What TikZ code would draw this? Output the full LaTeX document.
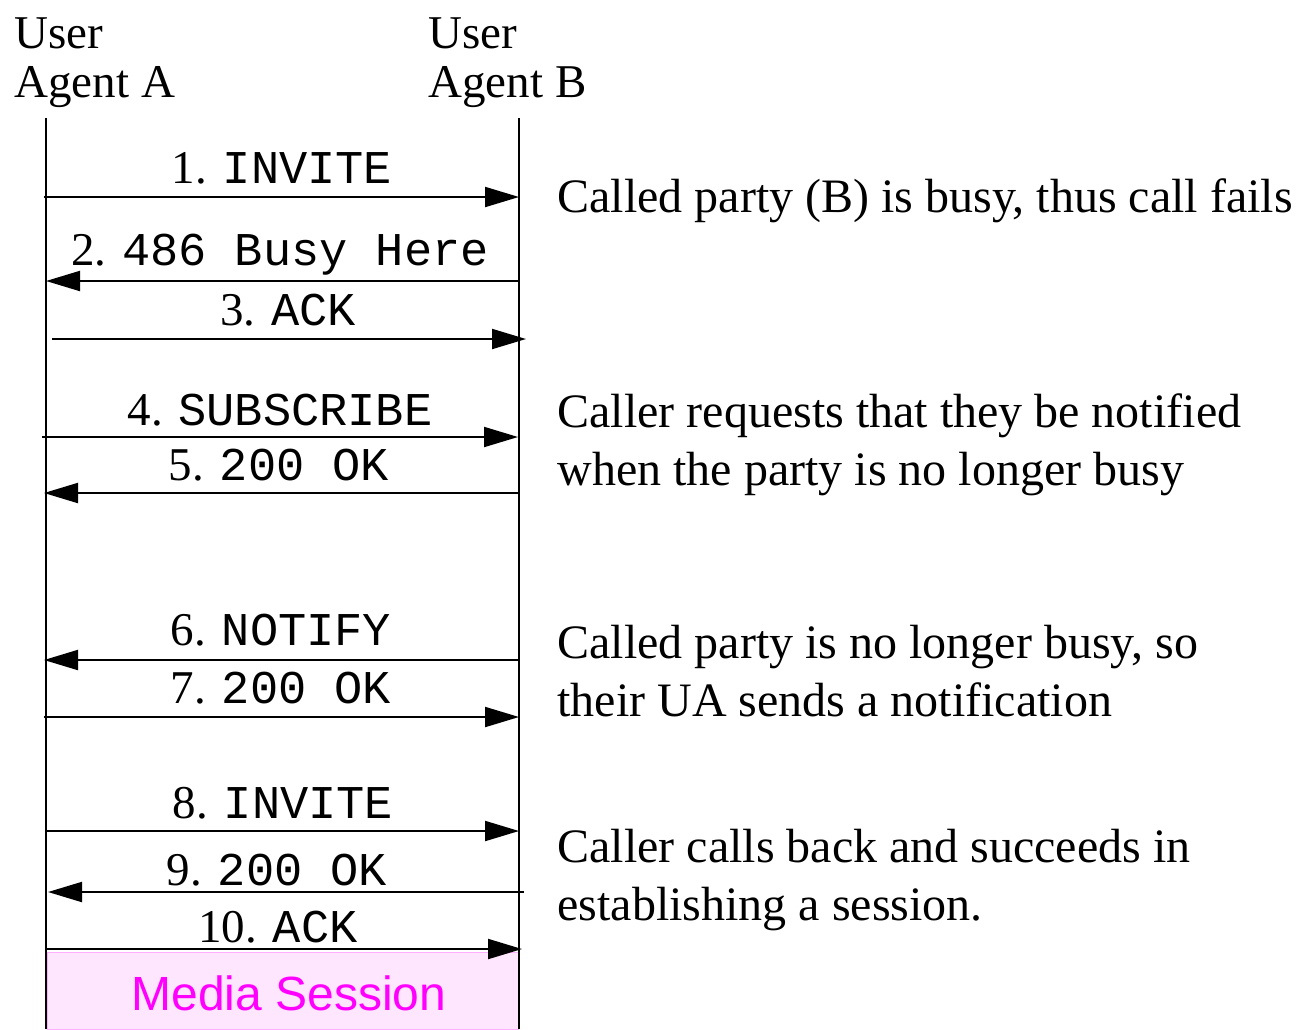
\documentclass[tikz,border=0pt]{standalone}
\usepackage{fontspec}
\setmainfont{Liberation Serif}
\setmonofont{Liberation Mono}
\setsansfont{Liberation Sans}
\usetikzlibrary{arrows.meta}

\definecolor{sessfill}{RGB}{255,230,255}
\definecolor{sessline}{RGB}{255,175,255}
\definecolor{sesstext}{RGB}{255,0,255}

\tikzset{
  life/.style={line width=1pt},
  msg/.style={line width=1pt, -{Triangle[length=17pt,width=10pt]}},
  lbl/.style={anchor=base, inner sep=0pt, font=\fontsize{23.5pt}{28pt}\selectfont},
  head/.style={anchor=base west, inner sep=0pt, align=left, font=\fontsize{23.5pt}{24.5pt}\selectfont},
  note/.style={anchor=base west, inner sep=0pt, align=left, font=\fontsize{24pt}{29pt}\selectfont},
}

\begin{document}
\begin{tikzpicture}[x=0.5pt, y=-0.5pt]
    \useasboundingbox (0,0) rectangle (1299,1029);

    % user agents and lifelines
    \node[head] (uaA) at (14,97) {User\\Agent A};
    \node[head] (uaB) at (428,97) {User\\Agent B};
    \coordinate (Atop) at (46,118);
    \coordinate (Abot) at (46,1029);
    \coordinate (Btop) at (519,118);
    \coordinate (Bbot) at (519,1029);

    % media session
    \filldraw[fill=sessfill, draw=sessline, line width=0.5pt] (47,952) rectangle (518,1029);
    \node[anchor=base, inner sep=0pt, text=sesstext, font=\sffamily\fontsize{24pt}{28pt}\selectfont] (media) at (289,1010) {Media Session};

    \draw[life] (Atop) -- (Abot);
    \draw[life] (Btop) -- (Bbot);

    % message ends
    \coordinate (a1) at (44,197);  \coordinate (b1) at (519,197);
    \coordinate (b2) at (519,281); \coordinate (a2) at (46,281);
    \coordinate (a3) at (52,339);  \coordinate (b3) at (526,339);
    \coordinate (a4) at (42,437);  \coordinate (b4) at (518,437);
    \coordinate (b5) at (519,493); \coordinate (a5) at (44,493);
    \coordinate (b6) at (519,660); \coordinate (a6) at (44,660);
    \coordinate (a7) at (44,717);  \coordinate (b7) at (519,717);
    \coordinate (a8) at (46,831);  \coordinate (b8) at (519,831);
    \coordinate (b9) at (524,892); \coordinate (a9) at (48,892);
    \coordinate (a10) at (46,949); \coordinate (b10) at (522,949);

    % messages
    \draw[msg] (a1) -- (b1);
    \draw[msg] (b2) -- (a2);
    \draw[msg] (a3) -- (b3);
    \draw[msg] (a4) -- (b4);
    \draw[msg] (b5) -- (a5);
    \draw[msg] (b6) -- (a6);
    \draw[msg] (a7) -- (b7);
    \draw[msg] (a8) -- (b8);
    \draw[msg] (b9) -- (a9);
    \draw[msg] (a10) -- (b10);

    % message labels
    \node[lbl] (l1) at (282,183) {1. \texttt{INVITE}};
    \node[lbl] (l2) at (280,265) {2. \texttt{486 Busy Here}};
    \node[lbl] (l3) at (288,325) {3. \texttt{ACK}};
    \node[lbl] (l4) at (280,425) {4. \texttt{SUBSCRIBE}};
    \node[lbl] (l5) at (279,480) {5. \texttt{200 OK}};
    \node[lbl] (l6) at (281,645) {6. \texttt{NOTIFY}};
    \node[lbl] (l7) at (281,703) {7. \texttt{200 OK}};
    \node[lbl] (l8) at (283,818) {8. \texttt{INVITE}};
    \node[lbl] (l9) at (277,885) {9. \texttt{200 OK}};
    \node[lbl] (l10) at (278,942) {10. \texttt{ACK}};

    % notes (base = last line)
    \node[note] (n1) at (557,212) {Called party (B) is busy, thus call fails};
    \node[note] (n2) at (557,485) {Caller requests that they be notified\\when the party is no longer busy};
    \node[note] (n3) at (557,716) {Called party is no longer busy, so\\their UA sends a notification};
    \node[note] (n4) at (557,920) {Caller calls back and succeeds in\\establishing a session.};
\end{tikzpicture}
\end{document}
